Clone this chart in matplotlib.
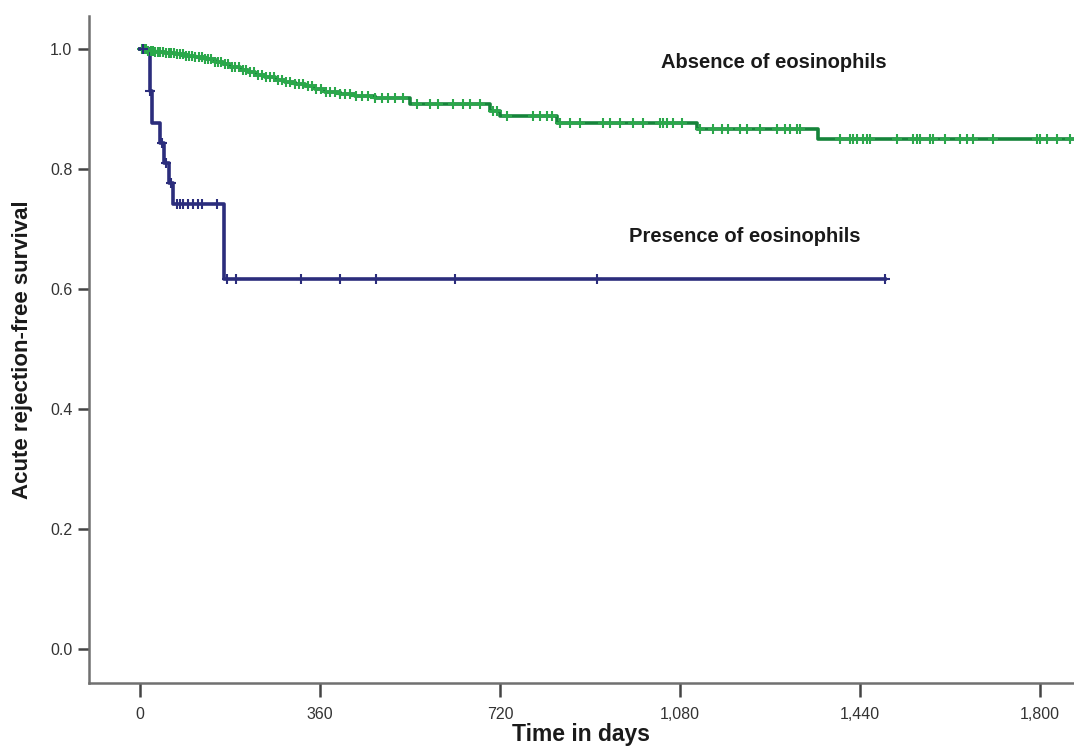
import numpy as np
import matplotlib
matplotlib.use("Agg")
import matplotlib.pyplot as plt

plt.rcParams['font.family'] = ['Liberation Sans Narrow', 'Liberation Sans', 'DejaVu Sans']

# Kaplan-Meier steps
absent_times = [0, 15, 30, 50, 70, 90, 110, 130, 150, 165, 180, 200, 215, 230, 250,
                270, 290, 310, 330, 350, 370, 400, 430, 470, 540, 700, 720, 834, 1114, 1356]
absent_surv = [1.0, 0.997, 0.995, 0.993, 0.991, 0.989, 0.986, 0.983, 0.979, 0.975, 0.970,
               0.965, 0.961, 0.957, 0.953, 0.949, 0.945, 0.942, 0.938, 0.934, 0.929, 0.925,
               0.922, 0.918, 0.909, 0.897, 0.888, 0.876, 0.866, 0.850]
absent_end = 1868
absent_censored = [4, 8, 12, 16, 22, 26, 30, 36, 40, 46, 52, 58, 62, 68, 74, 80, 86, 92, 98,
                   104, 110, 118, 124, 130, 136, 142, 150, 156, 162, 170, 176, 184, 190, 198,
                   206, 212, 220, 228, 236, 244, 252, 260, 268, 276, 284, 292, 300, 310, 318,
                   326, 336, 344, 352, 362, 372, 380, 390, 400, 410, 420, 432, 444, 456, 470,
                   484, 496, 510, 526, 554, 580, 596, 626, 646, 660, 680, 706, 714, 734, 786,
                   800, 814, 824, 840, 860, 880, 926, 940, 960, 986, 1006, 1040, 1046, 1054,
                   1066, 1084, 1120, 1146, 1164, 1176, 1200, 1214, 1240, 1274, 1290, 1300,
                   1314, 1320, 1400, 1420, 1426, 1434, 1446, 1454, 1460, 1514, 1546, 1554,
                   1560, 1580, 1586, 1610, 1640, 1654, 1666, 1706, 1794, 1800, 1814, 1834, 1860]

present_times = [0, 20, 23, 40, 48, 58, 66, 168]
present_surv = [1.0, 0.93, 0.877, 0.843, 0.81, 0.777, 0.742, 0.617]
present_end = 1490
present_censored = [6, 20, 44, 52, 62, 74, 80, 86, 96, 106, 116, 124, 154, 174, 192,
                    322, 400, 472, 630, 914, 1490]

label_absent = 'Absence of eosinophils'
label_present = 'Presence of eosinophils'
x_ticks = [0, 360, 720, 1080, 1440, 1800]
y_ticks = [0.0, 0.2, 0.4, 0.6, 0.8, 1.0]


def step_value(times, surv, t):
    idx = np.searchsorted(times, t, side='right') - 1
    return np.asarray(surv)[idx]


fig = plt.figure(figsize=(10.74, 7.5), dpi=100)
ax = fig.add_axes([89 / 1074, 1 - 683 / 750, 1 - 89 / 1074, (683 - 16) / 750])

for times, surv, end, cens, line_c, mark_c in [
        (absent_times, absent_surv, absent_end, absent_censored, '#15843a', '#2aa84a'),
        (present_times, present_surv, present_end, present_censored, '#2b2d7c', '#2b2d7c')]:
    t = list(times) + [end]
    s = list(surv) + [surv[-1]]
    ax.step(t, s, where='post', color=line_c, lw=2.6, zorder=3)
    ax.plot(cens, step_value(times, surv, cens), ls='none', marker='+', ms=7, mew=1.5,
            color=mark_c, zorder=4)

ax.text(1268, 0.977, label_absent, ha='center', va='center', fontsize=14.5,
        fontweight='bold', color='#1a1a1a')
ax.text(1210, 0.687, label_present, ha='center', va='center', fontsize=14.5,
        fontweight='bold', color='#1a1a1a')

ax.set_xlim(-102, 1868)
ax.set_ylim(-0.0567, 1.055)
ax.set_xticks(x_ticks)
ax.set_xticklabels([f'{v:,}' for v in x_ticks])
ax.set_yticks(y_ticks)
ax.set_yticklabels([f'{v:.1f}' for v in y_ticks])

for side in ['top', 'right']:
    ax.spines[side].set_visible(False)
for side in ['left', 'bottom']:
    ax.spines[side].set_color('#707070')
    ax.spines[side].set_linewidth(1.8)
ax.tick_params(axis='x', length=10, width=1.8, color='#444444', labelsize=11.5,
               labelcolor='#333333', pad=7)
ax.tick_params(axis='y', length=8, width=1.8, color='#444444', labelsize=11.5,
               labelcolor='#333333', pad=4)

ax.set_xlabel('Time in days', fontsize=16.5, fontweight='bold', color='#1a1a1a', labelpad=1)
ax.set_ylabel('Acute rejection-free survival', fontsize=16, fontweight='bold',
              color='#1a1a1a', labelpad=12)

fig.savefig('out.png', dpi=100)
